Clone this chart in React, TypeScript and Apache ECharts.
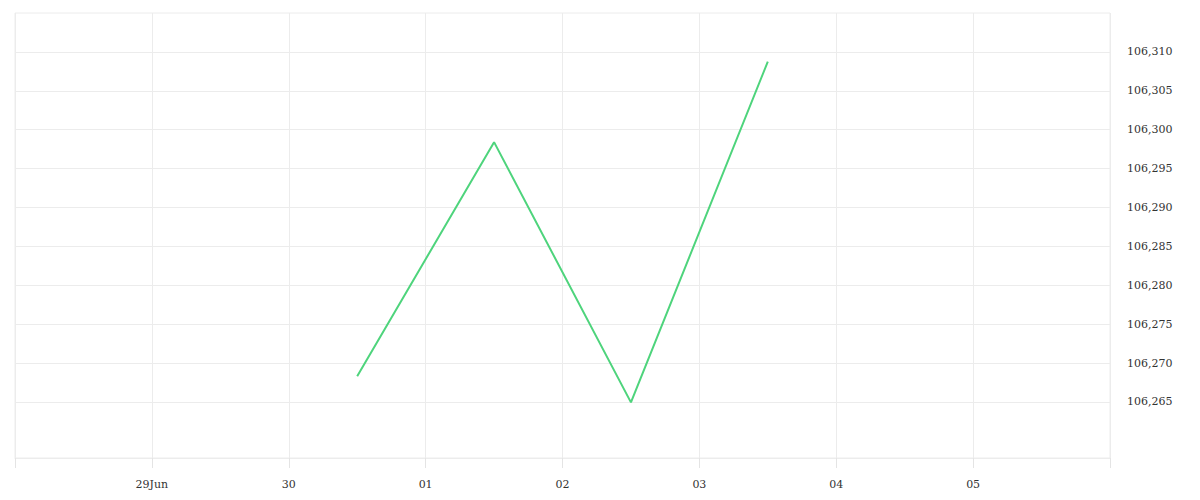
import { useEffect, useRef } from "react";
import * as echarts from "echarts";

const DAY = 86400000;

// x range: one band per day, 28 Jun .. 06 Jul (edge days carry no label)
const dayStarts = ["2020-06-28", "2020-06-29", "2020-06-30", "2020-07-01", "2020-07-02", "2020-07-03", "2020-07-04", "2020-07-05", "2020-07-06"];
const dayLabels = ["", "29Jun", "30", "01", "02", "03", "04", "05", ""];

// series: one value per day, sampled at noon
const pointTimes = ["2020-06-30T12:00", "2020-07-01T12:00", "2020-07-02T12:00", "2020-07-03T12:00"];
const pointValues = [106268.3, 106298.4, 106264.95, 106308.75];

const yTicks = [106265, 106270, 106275, 106280, 106285, 106290, 106295, 106300, 106305, 106310];
const yMin = 106257.8;
const yMax = 106315;

const toTime = (s: string) => new Date(s.length === 10 ? s + "T00:00" : s).getTime();

export default function App() {
  const chartRef = useRef<HTMLDivElement>(null);

  useEffect(() => {
    if (!chartRef.current) return;
    const chart = echarts.init(chartRef.current, null, { renderer: "svg" });
    const start = toTime(dayStarts[0]);
    const end = toTime(dayStarts[dayStarts.length - 1]);
    const font = { fontFamily: "DejaVu Serif", fontSize: 11, color: "#333" };

    chart.setOption({
      animation: false,
      grid: {
        left: 15,
        right: 90,
        top: 13,
        bottom: 42,
        outerBoundsMode: "none",
        containLabel: false,
        show: true,
        borderColor: "#ececec",
        borderWidth: 1,
      },
      xAxis: {
        type: "time",
        min: start,
        max: end,
        splitNumber: 8,
        minInterval: DAY,
        maxInterval: DAY,
        axisLine: { show: true, lineStyle: { color: "#ececec" } },
        axisTick: { show: true, length: 10, lineStyle: { color: "#e4e4e4", width: 1 } },
        splitLine: { show: true, lineStyle: { color: "#ececec" } },
        axisLabel: {
          ...font,
          margin: 21,
          formatter: (v: number) => dayLabels[Math.round((v - start) / DAY)] ?? "",
        },
      },
      yAxis: {
        type: "value",
        position: "right",
        min: yMin,
        max: yMax,
        axisLine: { show: false },
        axisTick: { show: false, customValues: yTicks },
        splitLine: { show: true, lineStyle: { color: "#ececec" } },
        axisLabel: {
          ...font,
          margin: 17,
          padding: [6, 0, 0, 0],
          customValues: yTicks,
          formatter: (v: number) => v.toLocaleString("en-US"),
        },
      },
      series: [
        {
          type: "line",
          data: pointTimes.map((t, i) => [toTime(t), pointValues[i]]),
          symbol: "none",
          lineStyle: { color: "#4ed47c", width: 2 },
        },
      ],
    });

    return () => chart.dispose();
  }, []);

  return (
    <div
      ref={chartRef}
      style={{ position: "absolute", left: 0, top: 0, width: 1200, height: 500 }}
    />
  );
}
